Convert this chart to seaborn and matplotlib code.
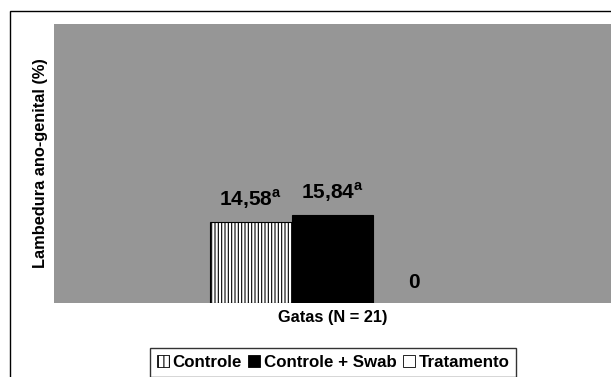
import matplotlib
matplotlib.use("Agg")
import matplotlib.pyplot as plt
import matplotlib.patches as mpatches
import seaborn as sns
import pandas as pd

# data
groups = ["Controle", "Controle + Swab", "Tratamento"]
values = [14.58, 15.84, 0.0]
value_labels = ["14,58", "15,84", "0"]
superscripts = ["a", "a", ""]
category = "Gatas (N = 21)"
ylabel = "Lambedura ano-genital (%)"

sns.set_style("white")
plt.rcParams["font.family"] = ["Liberation Sans", "DejaVu Sans"]
plt.rcParams["text.color"] = "black"
plt.rcParams["axes.labelcolor"] = "black"
plt.rcParams["xtick.color"] = "black"
plt.rcParams["mathtext.fontset"] = "custom"
plt.rcParams["mathtext.rm"] = "Liberation Sans"
plt.rcParams["mathtext.bf"] = "Liberation Sans:bold"
plt.rcParams["hatch.linewidth"] = 0.8

df = pd.DataFrame({"cat": [category] * len(groups), "grupo": groups, "valor": values})

fig = plt.figure(figsize=(6.11, 3.77), dpi=100)
ax = fig.add_axes([54 / 611, 1 - 303 / 377, 557 / 611, 279 / 377])
ax.set_facecolor("#969696")

sns.barplot(data=df, x="cat", y="valor", hue="grupo", hue_order=groups,
            palette=["white", "black", "white"], edgecolor="black",
            linewidth=0.8, width=0.8, legend=False, ax=ax)

hatches = ["|||||", "", ""]
for bar, h, v in zip(ax.patches, hatches, values):
    bar.set_hatch(h)
    if v == 0:
        bar.set_edgecolor("none")

for bar, lab, sup in zip(ax.patches, value_labels, superscripts):
    txt = r"$\mathbf{" + lab.replace(",", "{,}") + "}$"
    if sup:
        txt = r"$\mathbf{" + lab.replace(",", "{,}") + r"}^{\mathbf{" + sup + "}}$"
    ax.annotate(txt, (bar.get_x() + bar.get_width() / 2, bar.get_height()),
                xytext=(0, 8), textcoords="offset points",
                ha="center", va="bottom", fontsize=15, color="black")

ax.set_ylim(0, 50)
ax.set_xlim(-0.907, 0.907)
ax.set_yticks([])
ax.tick_params(axis="x", length=0, pad=5)
for t in ax.get_xticklabels():
    t.set_fontsize(11.8)
    t.set_fontweight("bold")
ax.set_xlabel("")
ax.set_ylabel(ylabel, fontsize=11.8, fontweight="bold", labelpad=4)
for s in ax.spines.values():
    s.set_visible(False)

# outer chart frame
frame = mpatches.Rectangle((10 / 611, -0.1), 1.2, 1 - 11 / 377 + 0.1,
                           transform=fig.transFigure, fill=False,
                           edgecolor="black", linewidth=1, clip_on=False)
fig.patches.append(frame)

handles = [mpatches.Patch(facecolor="white", edgecolor="black", hatch="|||", linewidth=0.6),
           mpatches.Patch(facecolor="black", edgecolor="black", linewidth=0.6),
           mpatches.Patch(facecolor="white", edgecolor="black", linewidth=0.6)]
leg = fig.legend(handles, groups, loc="upper center", ncol=3,
                 bbox_to_anchor=(333 / 611, 1 - 348 / 377),
                 prop={"weight": "bold", "size": 12.2}, frameon=True,
                 fancybox=False, edgecolor="black", handlelength=0.7,
                 handleheight=0.7, handletextpad=0.2, columnspacing=0.4,
                 borderpad=0.4, borderaxespad=0)
leg.get_frame().set_linewidth(1)

fig.savefig("out.png", dpi=100)
